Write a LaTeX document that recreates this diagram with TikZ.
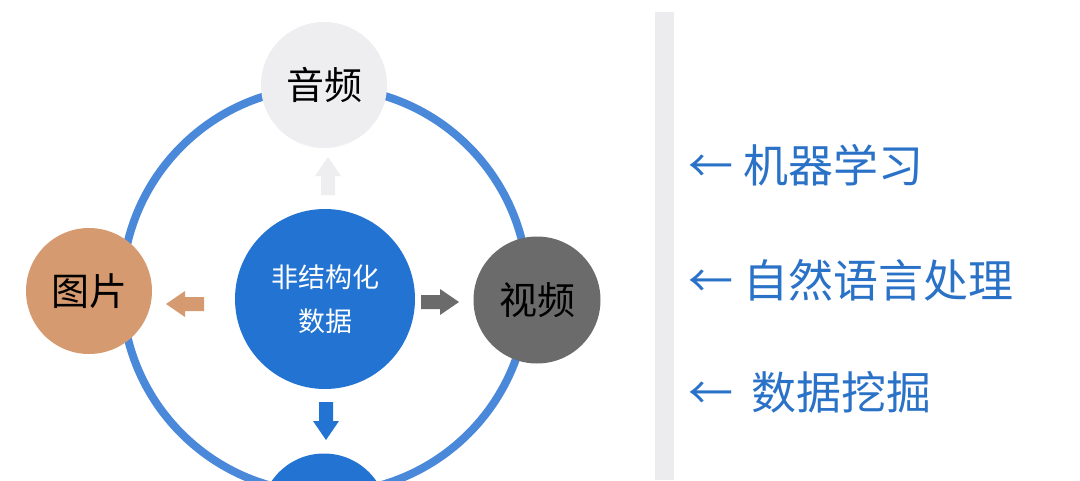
\documentclass[tikz,border=0pt]{standalone}
\usepackage{fontspec}
\setmainfont{Noto Sans CJK SC}
\definecolor{ringblue}{HTML}{4A88DA}
\definecolor{mainblue}{HTML}{2374D2}
\definecolor{audiog}{HTML}{EEEEF0}
\definecolor{tan}{HTML}{D59A70}
\definecolor{darkg}{HTML}{6B6B6B}
\definecolor{barg}{HTML}{ECECEE}
\definecolor{txtblue}{HTML}{2A72C8}
\tikzset{
  x=1pt,y=-1pt,
  bub/.style={circle,inner sep=0pt,minimum size=#1},
  sidetxt/.style={anchor=west,text=txtblue,font=\fontsize{45}{47}\selectfont,inner sep=0pt},
  pics/blockarrow/.style={code={\fill[#1] (-19,-7) -- (0,-7) -- (0,-13) -- (19,0) -- (0,13) -- (0,7) -- (-19,7) -- cycle;}}
}
\begin{document}
\begin{tikzpicture}
\useasboundingbox (0,0) rectangle (1080,480);
\fill[white] (0,0) rectangle (1080,480);
\fill[barg] (655,12) rectangle (674,480);
\clip (0,0) rectangle (1080,480);
\draw[ringblue,line width=8pt] (325,290) circle[radius=203];
\node[bub=126pt,fill=audiog,font=\fontsize{38}{40}\selectfont] (audio) at (324,85) {音频};
\node[bub=126pt,fill=tan,font=\fontsize{38}{40}\selectfont] (pic) at (89,291) {图片};
\node[bub=127pt,fill=darkg,font=\fontsize{38}{40}\selectfont] (video) at (537,300) {视频};
\node[bub=180pt,fill=mainblue,text=white,font=\fontsize{27}{44}\selectfont,align=center] (core) at (325,299) {非结构化\\数据};
\node[bub=127pt,fill=mainblue] (bottom) at (324,517) {};
\pic[rotate=90] (up) at (328,176) {blockarrow=audiog};
\pic[rotate=180] (left) at (185,304) {blockarrow=tan};
\pic (right) at (440,302) {blockarrow=darkg};
\pic[rotate=-90] (down) at (326,421) {blockarrow=mainblue};
\node[sidetxt] (t1) at (688,165) {←\hspace{10pt}机器学习};
\node[sidetxt] (t2) at (688,280) {←\hspace{10pt}自然语言处理};
\node[sidetxt] (t3) at (688,392) {←\hspace{18pt}数据挖掘};
\end{tikzpicture}
\end{document}
